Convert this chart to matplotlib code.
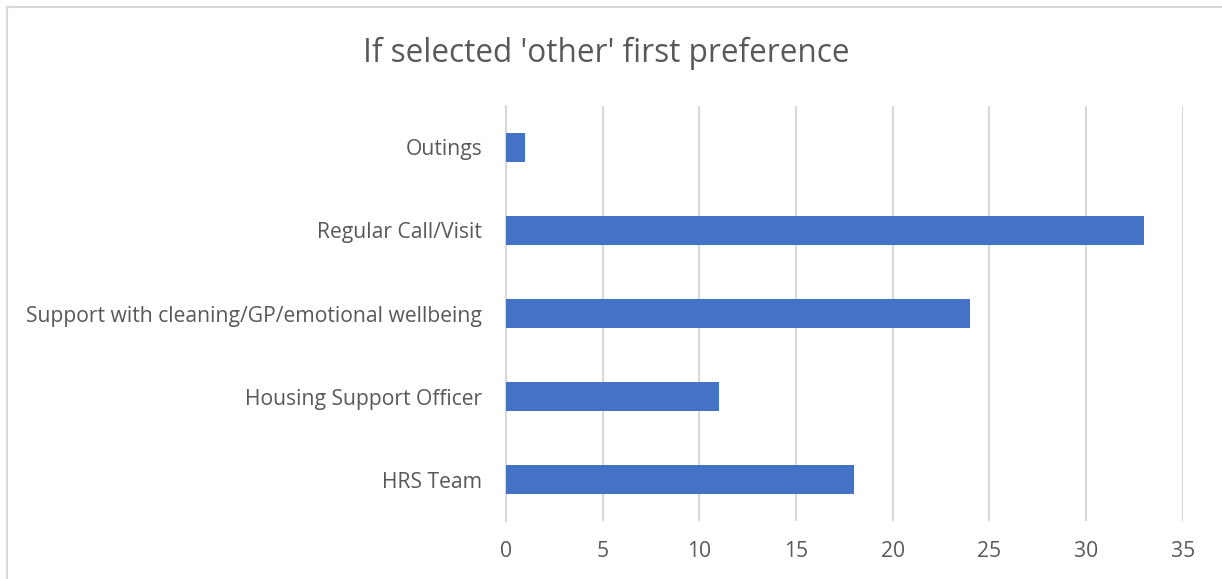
import matplotlib.pyplot as plt
from matplotlib.lines import Line2D

# responses, listed bottom to top
categories = ["HRS Team", "Housing Support Officer",
              "Support with cleaning/GP/emotional wellbeing",
              "Regular Call/Visit", "Outings"]
counts = [18, 11, 24, 33, 1]
x_ticks = [0, 5, 10, 15, 20, 25, 30, 35]

BAR_COLOR  = "#4472C4"
GRID_COLOR = "#D9D9D9"
TEXT_COLOR = "#595959"

plt.rcParams['font.family'] = ['Open Sans', 'DejaVu Sans']

fig = plt.figure(figsize=(12.22, 5.79), dpi=100)
ax = fig.add_axes([0.414, 0.100, 0.554, 0.717])

ax.barh(range(len(categories)), counts, height=0.355, color=BAR_COLOR, zorder=3)

ax.set_xlim(0, 35)
ax.set_ylim(-0.5, len(categories) - 0.5)
ax.set_xticks(x_ticks)
ax.set_yticks(range(len(categories)))
ax.set_yticklabels(categories)

ax.grid(axis='x', color=GRID_COLOR, linewidth=1.5, zorder=0)
ax.tick_params(axis='both', length=0, labelsize=15.2, labelcolor=TEXT_COLOR)
ax.tick_params(axis='x', pad=14)
ax.tick_params(axis='y', pad=17)
for side in ['top', 'right', 'bottom']:
    ax.spines[side].set_visible(False)
ax.spines['left'].set_color(GRID_COLOR)
ax.spines['left'].set_linewidth(1.5)

fig.text(0.4965, 0.907, "If selected 'other' first preference", ha='center', va='center',
         fontsize=22.7, color=TEXT_COLOR)

# outer chart border (top and left edges)
fig.add_artist(Line2D([0.006, 1.0], [0.988, 0.988], color=GRID_COLOR, linewidth=1.5))
fig.add_artist(Line2D([0.006, 0.006], [0.0, 0.988], color=GRID_COLOR, linewidth=1.5))

fig.savefig("out.png", dpi=100)
